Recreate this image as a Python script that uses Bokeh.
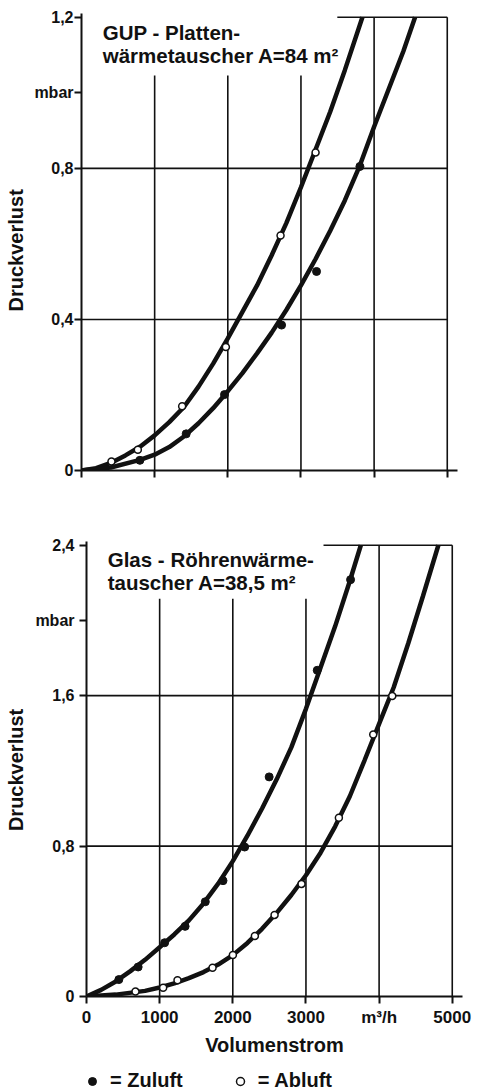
from math import pi
from bokeh.plotting import figure
from bokeh.models import FixedTicker, Label, Legend, LegendItem, Range1d
from bokeh.layouts import column, row
from bokeh.embed import file_html
from bokeh.resources import INLINE

FONT = "Liberation Sans"
INK = "#111111"

# ---------------- data ----------------
x_ticks = [0, 1000, 2000, 3000, 4000, 5000]
x_tick_labels = ["0", "1000", "2000", "3000", "m³/h", "5000"]
y_ticks_top = [0, 0.4, 0.8, 1.0, 1.2]
y_tick_labels_top = ["0", "0,4", "0,8", "mbar", "1,2"]
y_ticks_bot = [0, 0.8, 1.6, 2.0, 2.4]
y_tick_labels_bot = ["0", "0,8", "1,6", "mbar", "2,4"]
y_grid_top = [0.4, 0.8]
y_grid_bot = [0.8, 1.6]

# GUP-Plattenwärmetauscher A=84 m2
top_ab_pts_x = [410, 770, 1376, 1974, 2721, 3200]
top_ab_pts_y = [0.024, 0.055, 0.170, 0.327, 0.622, 0.842]
top_zu_pts_x = [798, 1431, 1955, 2735, 3213, 3806]
top_zu_pts_y = [0.027, 0.097, 0.201, 0.385, 0.527, 0.805]
top_ab_curve_x = [0, 200, 400, 600, 800, 1000, 1200, 1400, 1600, 1800, 2000,
                  2200, 2400, 2600, 2800, 3000, 3200, 3400, 3600, 3840]
top_ab_curve_y = [0, 0.006, 0.02, 0.04, 0.063, 0.093, 0.128, 0.168, 0.222, 0.283, 0.35,
                  0.42, 0.49, 0.57, 0.655, 0.75, 0.85, 0.95, 1.06, 1.20]
top_zu_curve_x = [0, 400, 800, 1000, 1200, 1400, 1600, 1800, 2000, 2200, 2400,
                  2600, 2800, 3000, 3200, 3400, 3600, 3800, 4000, 4200, 4400, 4560]
top_zu_curve_y = [0, 0.008, 0.028, 0.042, 0.062, 0.09, 0.125, 0.165, 0.21, 0.258, 0.31,
                  0.365, 0.425, 0.49, 0.56, 0.635, 0.715, 0.805, 0.91, 1.01, 1.11, 1.20]

# Glas-Röhrenwärmetauscher A=38,5 m2
bot_zu_pts_x = [442, 706, 1068, 1348, 1624, 1866, 2162, 2497, 3154, 3610]
bot_zu_pts_y = [0.090, 0.157, 0.286, 0.373, 0.504, 0.616, 0.795, 1.168, 1.735, 2.217]
bot_ab_pts_x = [670, 1048, 1244, 1723, 2001, 2302, 2571, 2940, 3450, 3920, 4180]
bot_ab_pts_y = [0.026, 0.046, 0.086, 0.153, 0.221, 0.322, 0.434, 0.599, 0.951, 1.393, 1.598]
bot_zu_curve_x = [0, 200, 400, 600, 800, 1000, 1200, 1400, 1600, 1800, 2000,
                  2200, 2400, 2600, 2800, 3000, 3200, 3400, 3600, 3750]
bot_zu_curve_y = [0, 0.035, 0.08, 0.135, 0.195, 0.262, 0.33, 0.405, 0.495, 0.60, 0.72,
                  0.855, 1.0, 1.155, 1.325, 1.53, 1.75, 1.97, 2.21, 2.40]
bot_ab_curve_x = [0, 400, 800, 1000, 1200, 1400, 1600, 1800, 2000, 2200, 2400, 2600,
                  2800, 3000, 3200, 3400, 3600, 3800, 4000, 4200, 4400, 4600, 4810]
bot_ab_curve_y = [0, 0.01, 0.03, 0.048, 0.07, 0.098, 0.13, 0.17, 0.22, 0.285, 0.36, 0.445,
                  0.54, 0.645, 0.765, 0.905, 1.065, 1.255, 1.45, 1.645, 1.88, 2.13, 2.40]

LAB_W = 28  # width of the strip that carries the rotated y-axis title


def build(width, height, borders, y_max, y_ticks, y_labels, y_grid, grid_top, border_from,
          title_lines, title_ys, show_x_labels, ylab_standoff):
    left, right, top, bottom = borders
    y_top = y_ticks[-1]
    p = figure(width=width, height=height, output_backend="svg", toolbar_location=None,
               x_range=Range1d(0, 5140), y_range=Range1d(0, y_max),
               min_border_left=left, min_border_right=right,
               min_border_top=top, min_border_bottom=bottom)
    p.outline_line_color = None
    p.grid.visible = False
    p.background_fill_color = "white"
    p.border_fill_color = "white"

    # grid lines (partial, as in the original drawing)
    gx = x_ticks[1:]
    gtop = [grid_top, grid_top, grid_top, y_top, y_top]
    p.segment(x0=gx, y0=[0] * len(gx), x1=gx, y1=gtop, line_color=INK, line_width=1.6)
    p.segment(x0=[0] * len(y_grid), y0=y_grid, x1=[x_ticks[-1]] * len(y_grid), y1=y_grid,
              line_color=INK, line_width=1.6)
    p.segment(x0=[border_from], y0=[y_top], x1=[x_ticks[-1]], y1=[y_top],
              line_color=INK, line_width=1.6)

    # axes
    for ax in (p.xaxis[0], p.yaxis[0]):
        ax.axis_line_width = 2
        ax.axis_line_color = INK
        ax.major_tick_line_width = 2
        ax.major_tick_line_color = INK
        ax.minor_tick_line_color = None
        ax.major_label_text_font = FONT
        ax.major_label_text_font_style = "bold"
        ax.major_label_text_color = INK
    p.xaxis.major_label_text_font_size = "17px"
    p.yaxis.major_label_text_font_size = "16px"
    p.xaxis.ticker = FixedTicker(ticks=x_ticks)
    if show_x_labels:
        p.xaxis.major_label_overrides = {t: l for t, l in zip(x_ticks, x_tick_labels)}
        p.xaxis.major_label_standoff = 4
    else:
        p.xaxis.major_label_overrides = {t: "" for t in x_ticks}
        p.xaxis.major_label_standoff = 0
    p.xaxis.major_tick_out = 7
    p.xaxis.major_tick_in = 0
    p.yaxis.ticker = FixedTicker(ticks=y_ticks)
    p.yaxis.major_label_overrides = {t: l for t, l in zip(y_ticks, y_labels)}
    p.yaxis.major_tick_out = 7
    p.yaxis.major_tick_in = 0
    p.yaxis.major_label_standoff = ylab_standoff

    # chart titles inside the plot
    for txt, ty in zip(title_lines, title_ys):
        p.add_layout(Label(x=290, y=ty, text=txt, text_font=FONT, text_font_size="20.5px",
                           text_font_style="bold", text_color=INK, text_align="left",
                           text_baseline="alphabetic"))
    return p


def label_strip(height, top, bottom, y_max, y_center):
    s = figure(width=LAB_W, height=height, output_backend="svg", toolbar_location=None,
               x_axis_location=None, y_axis_location=None,
               min_border_left=0, min_border_right=0, min_border_top=top,
               min_border_bottom=bottom, x_range=Range1d(0, 1), y_range=Range1d(0, y_max))
    s.outline_line_color = None
    s.grid.visible = False
    s.add_layout(Label(x=0.55, y=y_center, angle=pi / 2, text="Druckverlust", text_font=FONT,
                       text_font_size="20px", text_font_style="bold", text_color=INK,
                       text_align="center", text_baseline="middle"))
    return s


# ---------------- top panel ----------------
p1 = build(478 - LAB_W, 498, (81 - LAB_W, 21, 13, 28), 1.21, y_ticks_top, y_tick_labels_top,
           y_grid_top, 1.046, 3497, ["GUP - Platten-", "wärmetauscher  A=84 m²"],
           [1.161, 1.099], False, 1)
p1.line(top_ab_curve_x, top_ab_curve_y, line_color=INK, line_width=4.5)
p1.line(top_zu_curve_x, top_zu_curve_y, line_color=INK, line_width=4.5)
p1.scatter(top_zu_pts_x, top_zu_pts_y, marker="circle", size=8, fill_color=INK, line_color=INK)
p1.scatter(top_ab_pts_x, top_ab_pts_y, marker="circle", size=7, fill_color="white",
           line_color=INK, line_width=1.5)
s1 = label_strip(498, 13, 28, 1.21, 0.583)

# ---------------- bottom panel ----------------
p2 = build(478 - LAB_W, 568, (86 - LAB_W, 16, 43, 70), 2.42, y_ticks_bot, y_tick_labels_bot,
           y_grid_bot, 2.115, 3240, ["Glas - Röhrenwärme-", "tauscher  A=38,5 m²"],
           [2.323, 2.202], True, 5)
p2.line(bot_zu_curve_x, bot_zu_curve_y, line_color=INK, line_width=4.5)
p2.line(bot_ab_curve_x, bot_ab_curve_y, line_color=INK, line_width=4.5)
p2.scatter(bot_zu_pts_x, bot_zu_pts_y, marker="circle", size=8, fill_color=INK, line_color=INK)
p2.scatter(bot_ab_pts_x, bot_ab_pts_y, marker="circle", size=7, fill_color="white",
           line_color=INK, line_width=1.5)
p2.xaxis.axis_label = "Volumenstrom"
p2.xaxis.axis_label_text_font = FONT
p2.xaxis.axis_label_text_font_style = "bold"
p2.xaxis.axis_label_text_font_size = "20px"
p2.xaxis.axis_label_text_color = INK
p2.xaxis.axis_label_standoff = 4
s2 = label_strip(568, 43, 70, 2.42, 1.205)

# ---------------- legend strip ----------------
# the legend's marker renderers hold the lower panel's points, kept outside this strip's view
p3 = figure(width=478, height=26, output_backend="svg", toolbar_location=None,
            x_axis_location=None, y_axis_location=None,
            min_border_left=82, min_border_right=0, min_border_top=0, min_border_bottom=0,
            x_range=Range1d(0, 5140), y_range=Range1d(-10, -9))
p3.outline_line_color = None
p3.grid.visible = False
zu_r = p3.scatter(bot_zu_pts_x, bot_zu_pts_y, marker="circle", size=8, fill_color=INK,
                  line_color=INK)
ab_r = p3.scatter(bot_ab_pts_x, bot_ab_pts_y, marker="circle", size=7, fill_color="white",
                  line_color=INK, line_width=1.5)
legend = Legend(items=[LegendItem(label="= Zuluft", renderers=[zu_r]),
                       LegendItem(label="= Abluft", renderers=[ab_r])],
                location="bottom_left", orientation="horizontal", spacing=47, padding=0,
                margin=0, glyph_width=20, glyph_height=20, label_standoff=8,
                border_line_color=None, background_fill_alpha=0, label_text_font=FONT,
                label_text_font_style="bold", label_text_font_size="20px",
                label_text_color=INK)
p3.add_layout(legend)

layout = column(row(s1, p1, spacing=0), row(s2, p2, spacing=0), p3, spacing=0)
open("out.html", "w").write(file_html(layout, INLINE))
